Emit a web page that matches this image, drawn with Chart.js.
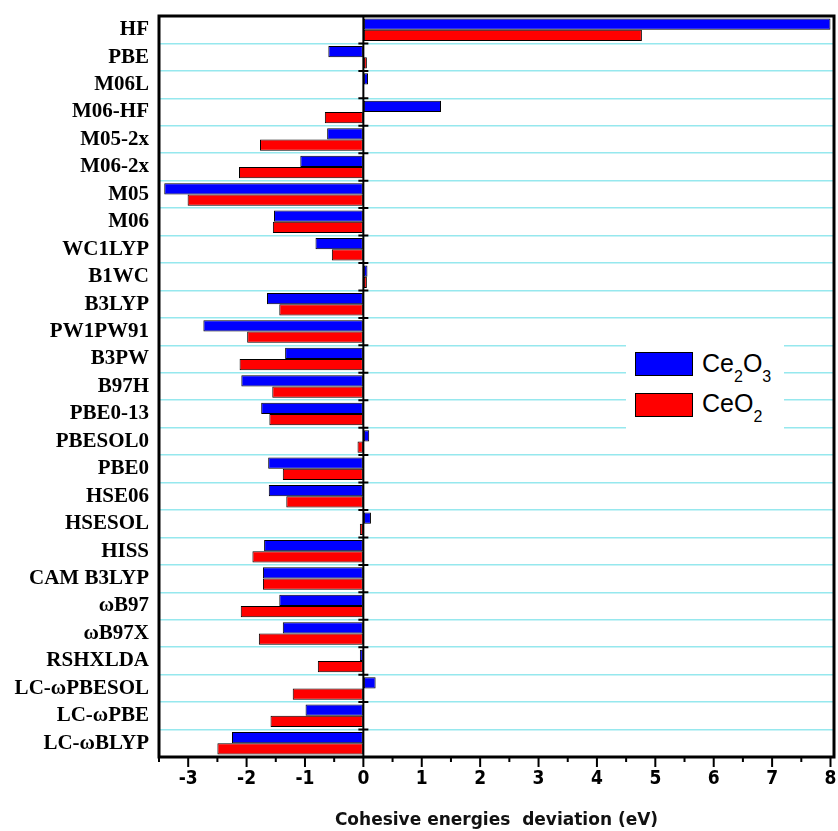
<!DOCTYPE html>
<html>
<head>
<meta charset="utf-8">
<script src="https://cdn.jsdelivr.net/npm/chart.js@4.4.0/dist/chart.umd.min.js"></script>
<style>
  body { margin: 0; background: #fff; }
  #wrap { position: relative; width: 838px; height: 831px; }
  #legend { position: absolute; left: 626px; top: 338px; width: 158px; height: 96px; background: #fff;
    font-family: "Liberation Sans", Arial, sans-serif; color: #000; }
  #legend .box { position: absolute; left: 9px; width: 56px; height: 22px; border: 1px solid #000; }
  #legend .lbl { position: absolute; left: 76px; font-size: 25px; line-height: 25px; white-space: nowrap; }
  #legend .lbl span { font-size: 16px; position: relative; top: 10px; }
</style>
</head>
<body>
<div id="wrap">
  <canvas id="chart" width="838" height="831"></canvas>
  <div id="legend">
    <div class="box" style="top:14px;background:#0000ff"></div>
    <div class="lbl" style="top:13px">Ce<span>2</span>O<span>3</span></div>
    <div class="box" style="top:55px;background:#ff0000"></div>
    <div class="lbl" style="top:53px">CeO<span>2</span></div>
  </div>
</div>
<script>
const functionals = ['HF', 'PBE', 'M06L', 'M06-HF', 'M05-2x', 'M06-2x', 'M05', 'M06', 'WC1LYP', 'B1WC',
  'B3LYP', 'PW1PW91', 'B3PW', 'B97H', 'PBE0-13', 'PBESOL0', 'PBE0', 'HSE06', 'HSESOL', 'HISS',
  'CAM B3LYP', 'ωB97', 'ωB97X', 'RSHXLDA', 'LC-ωPBESOL', 'LC-ωPBE', 'LC-ωBLYP'];

// cohesive energy deviations, eV
const ce2o3Dev = [8.0, -0.60, 0.08, 1.33, -0.62, -1.08, -3.41, -1.53, -0.82, 0.07,
  -1.65, -2.74, -1.34, -2.09, -1.75, 0.10, -1.63, -1.62, 0.13, -1.70,
  -1.72, -1.44, -1.38, -0.06, 0.21, -0.99, -2.25];
const ceo2Dev = [4.77, 0.06, 0.01, -0.66, -1.77, -2.13, -3.01, -1.55, -0.54, 0.06,
  -1.44, -1.99, -2.12, -1.56, -1.61, -0.10, -1.38, -1.32, -0.06, -1.90,
  -1.72, -2.10, -1.79, -0.78, -1.21, -1.59, -2.50];

const xTickValues = [-3, -2, -1, 0, 1, 2, 3, 4, 5, 6, 7, 8];

// frame, zero line with row ticks, and major/minor ticks on the energy axis
const axisDecor = {
  id: 'axisDecor',
  afterDatasetsDraw(chart) {
    const { ctx, chartArea: a, scales: { x, y } } = chart;
    ctx.save();
    ctx.strokeStyle = '#000';

    const x0 = x.getPixelForValue(0);
    ctx.lineWidth = 2;
    ctx.beginPath();
    ctx.moveTo(x0, a.top);
    ctx.lineTo(x0, a.bottom);
    const n = functionals.length;
    for (let i = 0; i < n; i++) {
      const yb = i === 0 ? a.top : (y.getPixelForValue(i - 1) + y.getPixelForValue(i)) / 2;
      ctx.moveTo(x0 - 5, yb);
      ctx.lineTo(x0 + 5, yb);
    }
    ctx.stroke();

    ctx.beginPath();
    for (let v = -3.5; v <= 8; v += 0.5) {
      const px = x.getPixelForValue(v);
      const len = Number.isInteger(v) ? 10 : 5;
      ctx.moveTo(px, a.bottom);
      ctx.lineTo(px, a.bottom + len);
    }
    ctx.stroke();

    ctx.lineWidth = 3;
    ctx.strokeRect(a.left, a.top, a.right - a.left, a.bottom - a.top);
    ctx.restore();
  }
};

new Chart(document.getElementById('chart'), {
  type: 'bar',
  data: {
    labels: functionals,
    datasets: [
      { label: 'Ce2O3', data: ce2o3Dev, backgroundColor: '#0000ff' },
      { label: 'CeO2', data: ceo2Dev, backgroundColor: '#ff0000' }
    ]
  },
  options: {
    indexAxis: 'y',
    responsive: false,
    animation: false,
    layout: { padding: { top: 16, right: 4, bottom: 0, left: 0 } },
    datasets: {
      bar: {
        categoryPercentage: 0.82,
        barPercentage: 1,
        borderColor: '#000',
        borderWidth: 1,
        borderSkipped: false
      }
    },
    plugins: {
      legend: { display: false },
      tooltip: { enabled: false }
    },
    scales: {
      x: {
        type: 'linear',
        min: -3.5,
        max: 8.06,
        afterFit(scale) { scale.height = 74; },
        afterBuildTicks(scale) { scale.ticks = xTickValues.map(v => ({ value: v })); },
        grid: { color: 'transparent', drawTicks: true, tickLength: 11, tickColor: 'transparent' },
        border: { display: false },
        ticks: {
          padding: 0,
          color: '#000',
          maxRotation: 0,
          autoSkip: false,
          font: { family: '"Liberation Sans Narrow", "DejaVu Sans Condensed", "Liberation Sans", sans-serif', size: 19, weight: 'bold' }
        },
        title: {
          display: true,
          text: 'Cohesive energies  deviation (eV)',
          color: '#111',
          padding: { top: 0, bottom: 0 },
          font: { family: '"DejaVu Sans", sans-serif', size: 17, weight: 'bold' }
        }
      },
      y: {
        afterFit(scale) { scale.width = 159; },
        grid: { color: 'rgb(150,232,238)', lineWidth: 1.5, offset: true, drawTicks: true, tickLength: 10, tickColor: 'transparent' },
        border: { display: false },
        ticks: {
          padding: 0,
          color: '#000',
          autoSkip: false,
          font: { family: '"Liberation Serif", "Times New Roman", serif', size: 21, weight: 'bold' }
        }
      }
    }
  },
  plugins: [axisDecor]
});
</script>
</body>
</html>
